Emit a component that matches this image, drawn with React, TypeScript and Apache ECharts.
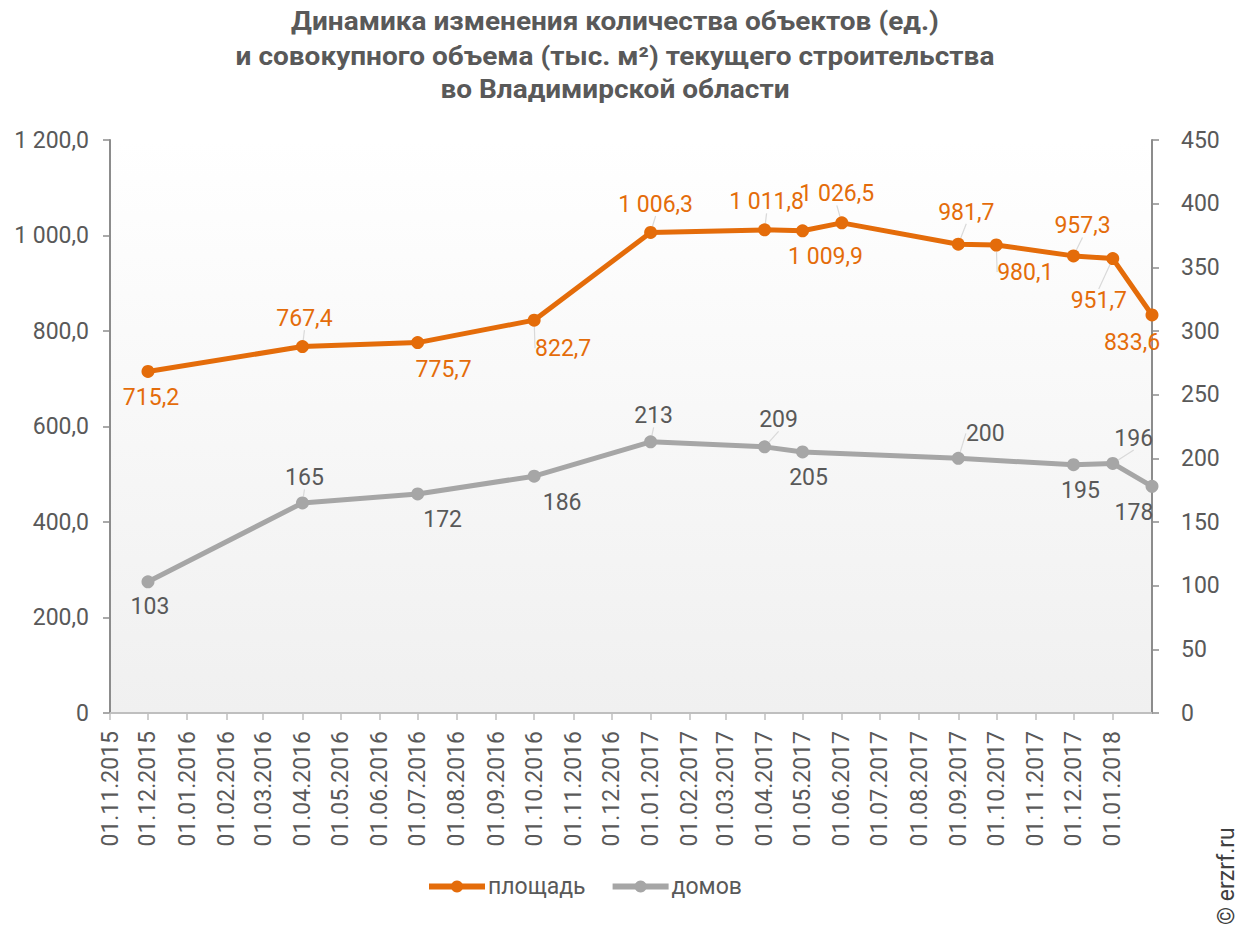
import React, { useEffect, useRef } from 'react';
import * as echarts from 'echarts';

const TITLE_LINES = [
  'Динамика изменения количества объектов (ед.)',
  'и совокупного объема (тыс. м²) текущего строительства',
  'во Владимирской области',
];

const AXIS_START = '2015-11-01';
const AXIS_END = '2018-02-01';

const TICK_DATES = [
  '2015-11-01', '2015-12-01', '2016-01-01', '2016-02-01', '2016-03-01', '2016-04-01',
  '2016-05-01', '2016-06-01', '2016-07-01', '2016-08-01', '2016-09-01', '2016-10-01',
  '2016-11-01', '2016-12-01', '2017-01-01', '2017-02-01', '2017-03-01', '2017-04-01',
  '2017-05-01', '2017-06-01', '2017-07-01', '2017-08-01', '2017-09-01', '2017-10-01',
  '2017-11-01', '2017-12-01', '2018-01-01',
];

const AREA_DATES = [
  '2015-12-01', '2016-04-01', '2016-07-01', '2016-10-01', '2017-01-01', '2017-04-01',
  '2017-05-01', '2017-06-01', '2017-09-01', '2017-10-01', '2017-12-01', '2018-01-01', '2018-02-01',
];
const AREA_VALUES = [715.2, 767.4, 775.7, 822.7, 1006.3, 1011.8, 1009.9, 1026.5, 981.7, 980.1, 957.3, 951.7, 833.6];

const HOUSE_DATES = [
  '2015-12-01', '2016-04-01', '2016-07-01', '2016-10-01', '2017-01-01', '2017-04-01',
  '2017-05-01', '2017-09-01', '2017-12-01', '2018-01-01', '2018-02-01',
];
const HOUSE_VALUES = [103, 165, 172, 186, 213, 209, 205, 200, 195, 196, 178];

// label displacement (pixels) relative to each point, and whether a leader line is drawn
const AREA_LABEL_OFFSETS: [number, number][] = [
  [3, 26], [2, -28], [26, 27], [29, 28], [5, -28], [2, -28], [23, 26], [-5, -29], [8, -32], [29, 27], [9, -30], [-14, 42], [-20, 28],
];
const AREA_LEADERS = [false, true, false, true, true, true, false, true, true, true, true, true, false];
const HOUSE_LABEL_OFFSETS: [number, number][] = [
  [2, 25], [2, -25], [25, 26], [28, 26], [3, -26], [14, -27], [6, 26], [27, -25], [7, 26], [21, -25], [-18, 26],
];
const HOUSE_LEADERS = [false, true, false, false, true, true, false, true, false, true, false];

const ORANGE = '#E46C0A';
const GRAY = '#A6A6A6';
const TEXT = '#595959';
const FONT = 'Roboto, "Noto Sans", sans-serif';
const FS = 23;

function ts(s: string): number {
  const [y, m, d] = s.split('-').map(Number);
  return Date.UTC(y, m - 1, d);
}

function pad(n: number) {
  return n < 10 ? '0' + n : String(n);
}

function fmtDate(v: number) {
  const d = new Date(v);
  return pad(d.getUTCDate()) + '.' + pad(d.getUTCMonth() + 1) + '.' + d.getUTCFullYear();
}

function fmtNum(v: number, decimals: number) {
  const s = v.toFixed(decimals);
  const [ip, fp] = s.split('.');
  const withSpaces = ip.replace(/\B(?=(\d{3})+(?!\d))/g, ' ');
  return fp !== undefined ? withSpaces + ',' + fp : withSpaces;
}

export default function App() {
  const ref = useRef<HTMLDivElement>(null);

  useEffect(() => {
    if (!ref.current) return;
    const chart = echarts.init(ref.current, null, { renderer: 'svg' });

    const areaData = AREA_DATES.map((d, i) => ({
      value: [ts(d), AREA_VALUES[i]],
      labelLine: { show: AREA_LEADERS[i] },
    }));
    const houseData = HOUSE_DATES.map((d, i) => ({
      value: [ts(d), HOUSE_VALUES[i]],
      labelLine: { show: HOUSE_LEADERS[i] },
    }));
    const ticks = TICK_DATES.map(ts);

    const labelLineCfg = {
      show: true,
      lineStyle: { color: '#d9d9d9', width: 1.2 },
    };

    const titleY = [21, 56, 89];

    const option: any = {
      animation: false,
      backgroundColor: '#ffffff',
      legend: {
        bottom: 23,
        left: 421,
        itemWidth: 56,
        itemHeight: 15,
        itemGap: 24,
        lineStyle: { width: 6 },
        textStyle: { fontFamily: FONT, fontSize: FS, color: TEXT, padding: [0, 0, 0, -2] },
        data: ['площадь', 'домов'],
      },
      grid: {
        left: 110,
        right: 102,
        top: 140,
        bottom: 213,
        show: true,
        borderWidth: 0,
        backgroundColor: new echarts.graphic.LinearGradient(0, 0, 0, 1, [
          { offset: 0, color: '#ffffff' },
          { offset: 1, color: '#f0f0f0' },
        ]),
      },
      xAxis: {
        type: 'value',
        min: ts(AXIS_START),
        max: ts(AXIS_END),
        splitLine: { show: false },
        axisLine: { show: true, lineStyle: { color: '#bfbfbf', width: 2 } },
        axisTick: {
          show: true,
          length: 7,
          lineStyle: { color: '#bfbfbf', width: 1.5 },
          customValues: ticks,
        },
        axisLabel: {
          customValues: ticks,
          rotate: 90,
          margin: 18,
          fontFamily: FONT,
          fontSize: FS,
          color: TEXT,
          formatter: (v: number) => fmtDate(v),
        },
      },
      yAxis: [
        {
          type: 'value',
          min: 0,
          max: 1200,
          interval: 200,
          position: 'left',
          splitLine: { show: false },
          axisLine: { show: true, lineStyle: { color: '#8c8c8c', width: 2 } },
          axisTick: { show: true, length: 7, lineStyle: { color: '#8c8c8c', width: 1.5 } },
          axisLabel: {
            margin: 21,
            fontFamily: FONT,
            fontSize: FS,
            color: TEXT,
            formatter: (v: number) => (v === 0 ? '0' : fmtNum(v, 1)),
          },
        },
        {
          type: 'value',
          min: 0,
          max: 450,
          interval: 50,
          position: 'right',
          splitLine: { show: false },
          axisLine: { show: true, lineStyle: { color: '#8c8c8c', width: 2 } },
          axisTick: { show: true, length: 7, lineStyle: { color: '#8c8c8c', width: 1.5 } },
          axisLabel: {
            margin: 29,
            fontFamily: FONT,
            fontSize: FS,
            color: TEXT,
          },
        },
      ],
      series: [
        {
          name: 'площадь',
          type: 'line',
          yAxisIndex: 0,
          data: areaData,
          symbol: 'circle',
          symbolSize: 13,
          itemStyle: { color: ORANGE },
          lineStyle: { color: ORANGE, width: 5 },
          label: {
            show: true,
            position: 'inside',
            fontFamily: FONT,
            fontSize: FS,
            color: ORANGE,
            formatter: (p: any) => fmtNum(p.value[1], 1),
          },
          labelLine: labelLineCfg,
          labelLayout: (p: any) => {
            const o = AREA_LABEL_OFFSETS[p.dataIndex] || [0, -25];
            return { dx: o[0], dy: o[1] };
          },
          z: 3,
        },
        {
          name: 'домов',
          type: 'line',
          yAxisIndex: 1,
          data: houseData,
          symbol: 'circle',
          symbolSize: 13,
          itemStyle: { color: GRAY },
          lineStyle: { color: GRAY, width: 5 },
          label: {
            show: true,
            position: 'inside',
            fontFamily: FONT,
            fontSize: FS,
            color: TEXT,
            formatter: (p: any) => fmtNum(p.value[1], 0),
          },
          labelLine: labelLineCfg,
          labelLayout: (p: any) => {
            const o = HOUSE_LABEL_OFFSETS[p.dataIndex] || [0, -25];
            return { dx: o[0], dy: o[1] };
          },
          z: 2,
        },
      ],
      graphic: [
        ...TITLE_LINES.map((t, i) => ({
          type: 'text',
          x: 615,
          y: titleY[i],
          scaleX: 1.12,
          style: {
            text: t,
            fontFamily: FONT,
            fontSize: 25,
            fontWeight: 'bold',
            fill: TEXT,
            textAlign: 'center',
            textVerticalAlign: 'middle',
          },
        })),
        {
          type: 'text',
          x: 1238,
          y: 925,
          rotation: Math.PI / 2,
          style: {
            text: '© erzrf.ru',
            fontFamily: FONT,
            fontSize: 23,
            fill: '#404040',
            textAlign: 'left',
            textVerticalAlign: 'bottom',
          },
        },
      ],
    };

    chart.setOption(option);
    return () => chart.dispose();
  }, []);

  return (
    <div
      ref={ref}
      style={{ position: 'fixed', left: 0, top: 0, width: 1254, height: 926 }}
    />
  );
}
